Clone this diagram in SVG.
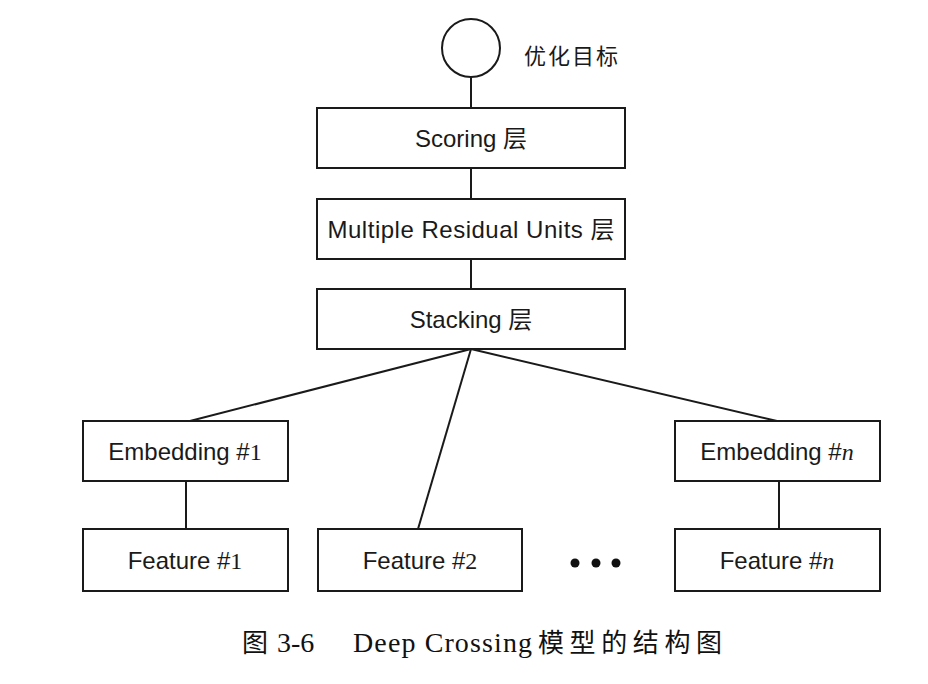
<svg xmlns="http://www.w3.org/2000/svg" width="928" height="684" viewBox="0 0 928 684">
<style>
.box{fill:#fff;stroke:#1a1a1a;stroke-width:2}
.lbl{font-family:"Liberation Sans","Noto Sans CJK SC",Arial,sans-serif;font-size:24px;fill:#1a1a1a;text-anchor:middle}
.ser{font-family:"Liberation Serif","Times New Roman",serif}
.cap{font-family:"Liberation Serif","Noto Sans CJK SC",serif;font-size:26px;fill:#111}
.capl{font-family:"Liberation Serif","Times New Roman",serif;font-size:28px;fill:#111}
.edge{stroke:#1a1a1a;stroke-width:2;fill:none}
</style>
<rect width="928" height="684" fill="#fff"/>
<g id="connectors">
<line class="edge" x1="471" y1="77" x2="471" y2="108"/>
<line class="edge" x1="471" y1="168" x2="471" y2="199"/>
<line class="edge" x1="471" y1="259" x2="471" y2="289"/>
<line class="edge" x1="471" y1="349" x2="190" y2="421"/>
<line class="edge" x1="471" y1="349" x2="418" y2="529"/>
<line class="edge" x1="471" y1="349" x2="777" y2="421"/>
<line class="edge" x1="186" y1="481" x2="186" y2="529"/>
<line class="edge" x1="779" y1="481" x2="779" y2="529"/>
</g>
<g id="objective">
<circle cx="471" cy="48" r="29" class="box"/>
<text x="524" y="64" font-family="'Noto Sans CJK SC',sans-serif" font-size="22" letter-spacing="2" fill="#1a1a1a">优化目标</text>
</g>
<g id="scoring">
<rect class="box" x="317" y="108" width="308" height="60"/>
<text class="lbl" x="471" y="147">Scoring 层</text>
</g>
<g id="residual">
<rect class="box" x="317" y="199" width="308" height="60"/>
<text class="lbl" x="471" y="238" textLength="287" lengthAdjust="spacing">Multiple Residual Units 层</text>
</g>
<g id="stacking">
<rect class="box" x="317" y="289" width="308" height="60"/>
<text class="lbl" x="471" y="328">Stacking 层</text>
</g>
<g id="embedding1">
<rect class="box" x="83" y="421" width="205" height="60"/>
<text class="lbl" x="185" y="460">Embedding #<tspan class="ser">1</tspan></text>
</g>
<g id="embeddingn">
<rect class="box" x="675" y="421" width="205" height="60"/>
<text class="lbl" x="777" y="460">Embedding #<tspan class="ser" font-style="italic">n</tspan></text>
</g>
<g id="feature1">
<rect class="box" x="83" y="529" width="205" height="62"/>
<text class="lbl" x="185" y="569">Feature #<tspan class="ser">1</tspan></text>
</g>
<g id="feature2">
<rect class="box" x="318" y="529" width="204" height="62"/>
<text class="lbl" x="420" y="569">Feature #<tspan class="ser">2</tspan></text>
</g>
<g id="featuren">
<rect class="box" x="675" y="529" width="205" height="62"/>
<text class="lbl" x="777" y="569">Feature #<tspan class="ser" font-style="italic">n</tspan></text>
</g>
<g id="ellipsis" fill="#111">
<circle cx="575" cy="563" r="4.5"/>
<circle cx="596" cy="563" r="4.5"/>
<circle cx="616" cy="563" r="4.5"/>
</g>
<g id="caption">
<text class="cap" x="242" y="652">图</text>
<text class="capl" x="277" y="652">3-6</text>
<text class="capl" x="353" y="652" textLength="179" lengthAdjust="spacing">Deep Crossing</text>
<text class="cap" x="538" y="652" textLength="184" lengthAdjust="spacing">模型的结构图</text>
</g>
</svg>
